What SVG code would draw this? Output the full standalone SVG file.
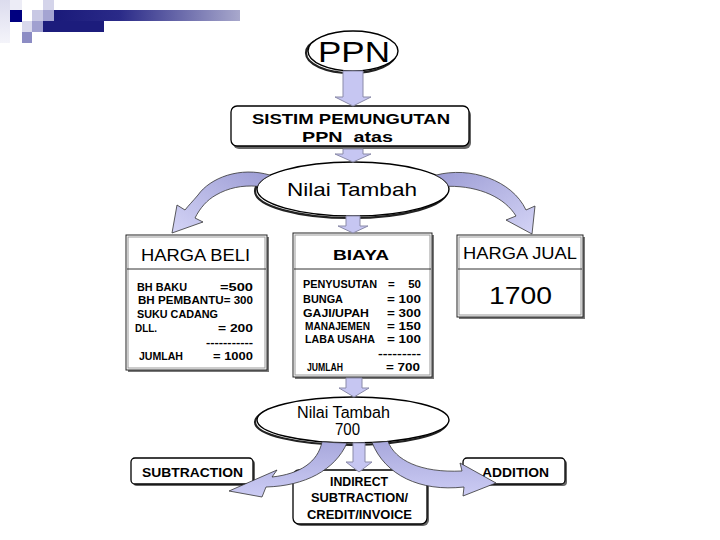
<svg xmlns="http://www.w3.org/2000/svg" width="720" height="540" viewBox="0 0 720 540">
<defs>
<linearGradient id="barG" x1="0" y1="0" x2="1" y2="0">
<stop offset="0" stop-color="#1a1a7a"/><stop offset="0.35" stop-color="#2a2a88"/><stop offset="1" stop-color="#a8a8cc"/>
</linearGradient>
<linearGradient id="colG" x1="0" y1="0" x2="0" y2="1">
<stop offset="0" stop-color="#dcdcee"/><stop offset="1" stop-color="#f4f4fa"/>
</linearGradient>
<linearGradient id="arcL" x1="1" y1="0" x2="0" y2="1">
<stop offset="0" stop-color="#9c9cd4"/><stop offset="1" stop-color="#d4d4f6"/>
</linearGradient>
<linearGradient id="arcR" x1="0" y1="0" x2="1" y2="1">
<stop offset="0" stop-color="#9c9cd4"/><stop offset="1" stop-color="#d4d4f6"/>
</linearGradient>
<linearGradient id="arcB" x1="0" y1="0" x2="0" y2="1">
<stop offset="0" stop-color="#a8a8dc"/><stop offset="1" stop-color="#ccccf4"/>
</linearGradient>
</defs>
<style>
.t{font-family:"Liberation Sans",Arial,sans-serif;fill:#000}
.b{font-family:"Liberation Sans",Arial,sans-serif;font-weight:bold;fill:#000}
.n{font-family:"Liberation Sans Narrow","Liberation Sans",Arial,sans-serif;font-weight:bold;fill:#000;font-size:11.5px}
.nb{font-family:"Liberation Sans Narrow","Liberation Sans",Arial,sans-serif;font-weight:bold;fill:#000;font-size:13.5px}
.ell{fill:#fff;stroke:#000;stroke-width:1.4}
.esh{fill:none;stroke:#222;stroke-width:2.2}
.rb{fill:#fff;stroke:#000;stroke-width:1.3}
.rsh{fill:#666}
.box{fill:#fff;stroke:#222;stroke-width:1}
.inner{fill:none;stroke:#999;stroke-width:1}
.div{stroke:#333;stroke-width:1}
.blk{fill:#c6c6f2;stroke:#8a8aa8;stroke-width:1}
.arc{stroke:#333;stroke-width:0.8}
</style>

<g id="decoration">
<rect x="0" y="0" width="10" height="43" fill="url(#colG)"/>
<rect x="10" y="0" width="12" height="10" fill="#ececf6"/>
<rect x="10" y="10" width="12" height="12" fill="#000080"/>
<rect x="32" y="10" width="11" height="11" fill="#c8c8e4"/>
<rect x="43" y="0" width="11" height="10" fill="#d4d4ea"/>
<rect x="43" y="10" width="11" height="11" fill="#a4a4d2"/>
<rect x="22" y="21" width="10" height="11" fill="#d8d8ec"/>
<rect x="32" y="21" width="11" height="11" fill="#a0a0d0"/>
<rect x="22" y="32" width="10" height="11" fill="#8c8cc4"/>
<rect x="54" y="10" width="186" height="11" fill="url(#barG)"/>
<rect x="43" y="21" width="61" height="11" fill="#1c1c7c"/>
</g>

<g id="ppn">
<ellipse class="esh" cx="351" cy="53" rx="45" ry="20"/>
<ellipse class="ell" cx="353" cy="51" rx="45" ry="20"/>
<text class="t" x="354" y="62" font-size="29" text-anchor="middle" textLength="72" lengthAdjust="spacingAndGlyphs">PPN</text>
</g>

<g id="sistim">
<rect class="rsh" x="233" y="109" width="238" height="40" rx="6"/>
<rect class="rb" x="231" y="106" width="238" height="40" rx="6"/>
<text class="b" x="351" y="124" font-size="14" text-anchor="middle" textLength="198" lengthAdjust="spacingAndGlyphs">SISTIM PEMUNGUTAN</text>
<text class="b" x="347.5" y="142" font-size="14" text-anchor="middle" textLength="91" lengthAdjust="spacingAndGlyphs" xml:space="preserve">PPN  atas</text>
</g>

<g id="nilai1">
<ellipse class="esh" cx="351" cy="191" rx="96" ry="27"/>
<ellipse class="ell" cx="353" cy="189" rx="96" ry="27"/>
<text class="t" x="352" y="196" font-size="19" text-anchor="middle" textLength="130" lengthAdjust="spacingAndGlyphs">Nilai Tambah</text>
</g>

<g id="hargabeli">
<rect x="128" y="237" width="141" height="135" fill="#777"/>
<rect class="box" x="126" y="235" width="141" height="135"/>
<rect class="inner" x="128" y="237" width="137" height="131"/>
<line class="div" x1="127" y1="269" x2="266" y2="269"/>
<text class="t" x="195.5" y="261" font-size="17" text-anchor="middle" textLength="109" lengthAdjust="spacingAndGlyphs">HARGA BELI</text>
<text class="n" x="137" y="291" textLength="50" lengthAdjust="spacingAndGlyphs">BH BAKU</text>
<text class="n" x="220" y="291" textLength="33" lengthAdjust="spacingAndGlyphs">=500</text>
<text class="n" x="138" y="304" textLength="115" lengthAdjust="spacingAndGlyphs">BH PEMBANTU= 300</text>
<text class="n" x="137" y="318" textLength="81" lengthAdjust="spacingAndGlyphs">SUKU CADANG</text>
<text class="n" x="135" y="332" textLength="22" lengthAdjust="spacingAndGlyphs">DLL.</text>
<text class="n" x="218" y="332" textLength="35" lengthAdjust="spacingAndGlyphs">= 200</text>
<text class="n" x="206" y="346" textLength="47" lengthAdjust="spacingAndGlyphs">-----------</text>
<text class="n" x="139" y="360" textLength="44" lengthAdjust="spacingAndGlyphs">JUMLAH</text>
<text class="n" x="213" y="360" textLength="40" lengthAdjust="spacingAndGlyphs">= 1000</text>
</g>

<g id="biaya">
<rect x="295" y="235" width="139" height="144" fill="#777"/>
<rect class="box" x="293" y="233" width="139" height="144"/>
<rect class="inner" x="295" y="235" width="135" height="140"/>
<line class="div" x1="294" y1="269" x2="431" y2="269"/>
<text class="b" x="361" y="259.5" font-size="15" text-anchor="middle" textLength="56" lengthAdjust="spacingAndGlyphs">BIAYA</text>
<text class="n" x="303" y="288" textLength="74" lengthAdjust="spacingAndGlyphs">PENYUSUTAN</text>
<text class="n" x="388" y="288">=</text>
<text class="n" x="421" y="288" text-anchor="end">50</text>
<text class="n" x="303" y="302.6" textLength="40" lengthAdjust="spacingAndGlyphs">BUNGA</text>
<text class="n" x="387" y="302.6" textLength="34" lengthAdjust="spacingAndGlyphs">= 100</text>
<text class="n" x="303" y="316.6" textLength="66" lengthAdjust="spacingAndGlyphs">GAJI/UPAH</text>
<text class="n" x="387" y="316.6" textLength="34" lengthAdjust="spacingAndGlyphs">= 300</text>
<text class="n" x="305" y="329.6" textLength="65" lengthAdjust="spacingAndGlyphs">MANAJEMEN</text>
<text class="n" x="387" y="329.6" textLength="34" lengthAdjust="spacingAndGlyphs">= 150</text>
<text class="n" x="305" y="342.6" textLength="70" lengthAdjust="spacingAndGlyphs">LABA USAHA</text>
<text class="n" x="387" y="342.6" textLength="34" lengthAdjust="spacingAndGlyphs">= 100</text>
<text class="n" x="378" y="357" textLength="43" lengthAdjust="spacingAndGlyphs">---------</text>
<text class="n" x="307" y="370.6" textLength="36" lengthAdjust="spacingAndGlyphs">JUMLAH</text>
<text class="n" x="386" y="370.6" textLength="34" lengthAdjust="spacingAndGlyphs">= 700</text>
</g>

<g id="hargajual">
<rect x="459" y="237" width="126" height="82" fill="#777"/>
<rect class="box" x="457" y="235" width="126" height="82"/>
<rect class="inner" x="459" y="237" width="122" height="78"/>
<line class="div" x1="458" y1="269" x2="582" y2="269"/>
<text class="t" x="520" y="259" font-size="16" text-anchor="middle" textLength="114" lengthAdjust="spacingAndGlyphs">HARGA JUAL</text>
<text class="t" x="520.5" y="303.5" font-size="24" text-anchor="middle" textLength="63" lengthAdjust="spacingAndGlyphs">1700</text>
</g>

<g id="nilai2">
<ellipse class="esh" cx="351" cy="422" rx="96" ry="23"/>
<ellipse class="ell" cx="353" cy="420" rx="96" ry="23"/>
<text class="t" x="343.5" y="418" font-size="16" text-anchor="middle" textLength="93" lengthAdjust="spacingAndGlyphs">Nilai Tambah</text>
<text class="t" x="347.5" y="435" font-size="16" text-anchor="middle" textLength="25" lengthAdjust="spacingAndGlyphs">700</text>
</g>

<g id="subtraction">
<rect class="rsh" x="133" y="460" width="122" height="26" rx="4"/>
<rect class="rb" x="131" y="458" width="122" height="26" rx="4"/>
<text class="b" x="192.5" y="476.7" font-size="13" text-anchor="middle" textLength="101" lengthAdjust="spacingAndGlyphs">SUBTRACTION</text>
</g>

<g id="indirect">
<rect class="rsh" x="295" y="472" width="134" height="54" rx="6"/>
<rect class="rb" x="293" y="470" width="134" height="54" rx="6"/>
<text class="nb" x="359" y="485.5" text-anchor="middle" textLength="58" lengthAdjust="spacingAndGlyphs">INDIRECT</text>
<text class="nb" x="359.5" y="502" text-anchor="middle" textLength="97" lengthAdjust="spacingAndGlyphs">SUBTRACTION/</text>
<text class="nb" x="359.5" y="518.5" text-anchor="middle" textLength="105" lengthAdjust="spacingAndGlyphs">CREDIT/INVOICE</text>
</g>

<g id="addition">
<rect class="rsh" x="465" y="460" width="102" height="26" rx="4"/>
<rect class="rb" x="463" y="458" width="102" height="26" rx="4"/>
<text class="b" x="515.5" y="476.7" font-size="13" text-anchor="middle" textLength="67" lengthAdjust="spacingAndGlyphs">ADDITION</text>
</g>

<g id="connectors">
<polygon class="blk" points="343,71 363,71 363,97 371,97 353,106 335,97 343,97"/>
<polygon class="blk" points="343,149 363,149 363,154 371,154 353,162 335,154 343,154"/>
<polygon class="blk" points="346,216 360,216 360,226 368,226 353,233 338,226 346,226"/>
<polygon class="blk" points="346,378 362,378 362,388 369,388 354,397 339,388 346,388"/>
<polygon class="blk" points="353,443 365,443 365,462 372,462 359,472 346,462 353,462"/>
<path class="arc" fill="url(#arcL)" d="M 270.4,175.2 C 240,166 210,178 198,195 C 193,201 188,206 185,210 L 177,205 L 172,233 L 203,222 L 195,218 C 200,208 207,200 216,195 C 228,188 242,185 257.5,186.3 A 96 27 0 0 1 270.4,175.2 Z"/>
<path class="arc" fill="url(#arcR)" d="M 435.6,175.2 C 470,166 512,180 526,210 L 535,206 L 532,234 L 506,220 L 516,216 C 505,198 480,186 448.5,186.3 A 96 27 0 0 0 435.6,175.2 Z"/>
<path class="arc" fill="url(#arcB)" d="M 322,441.8 C 318,462 300,474 272,477 L 277,470 L 229,491 L 262,497 L 266,487 C 305,486 335,470 347,443 A 96 23 0 0 1 322,441.8 Z"/>
<path class="arc" fill="url(#arcB)" d="M 388,441.4 C 395,460 420,473 462,471 L 460,463 L 496,483 L 463,496 L 464,487 C 420,492 385,475 372,442.5 A 96 23 0 0 0 388,441.4 Z"/>
</g>
</svg>
